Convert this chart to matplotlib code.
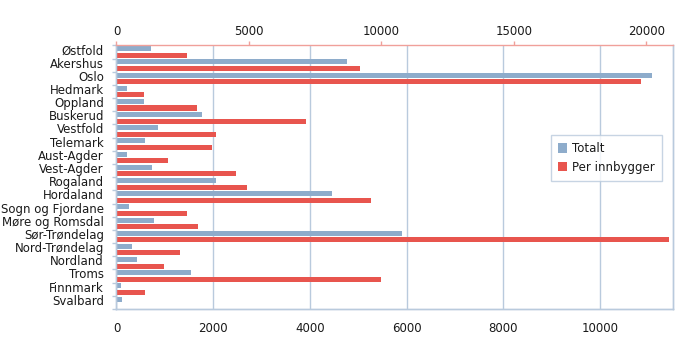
import matplotlib
matplotlib.use("Agg")
import matplotlib.pyplot as plt
import numpy as np
from matplotlib.patches import Patch

fylker = ["Østfold", "Akershus", "Oslo", "Hedmark", "Oppland", "Buskerud", "Vestfold",
          "Telemark", "Aust-Agder", "Vest-Agder", "Rogaland", "Hordaland", "Sogn og Fjordane",
          "Møre og Romsdal", "Sør-Trøndelag", "Nord-Trøndelag", "Nordland", "Troms",
          "Finnmark", "Svalbard"]
totalt = [706, 4756, 11070, 210, 568, 1773, 857, 589, 210, 740, 2050, 4452, 265, 768,
          5905, 327, 417, 1539, 87, 114]
per_innbygger = [2653, 9177, 19811, 1028, 3042, 7162, 3749, 3621, 1946, 4505, 4932, 9607,
                 2653, 3091, 20854, 2388, 1784, 9985, 1077, 0]

bottom_ticks = [0, 2000, 4000, 6000, 8000, 10000]
top_ticks = [0, 5000, 10000, 15000, 20000]

BLUE = "#8eaccb"
RED = "#e8554e"
GRID = "#b9cadd"
REDLINE = "#f0a09a"
TXT = "#1a1a1a"

plt.rcParams["font.family"] = ["DejaVu Sans"]

fig = plt.figure(figsize=(7, 3.56), dpi=100)
ax = fig.add_axes([0.1664, 0.132, 0.7946, 0.7405])
ax2 = ax.twiny()

y = np.arange(len(fylker))
h = 0.38
ax.barh(y - 0.25, totalt, height=h, color=BLUE, zorder=2)
ax2.barh(y + 0.25, per_innbygger, height=h, color=RED, zorder=2)

ax.set_xlim(0, 11500)
ax2.set_xlim(0, 21000)
ax.set_ylim(len(fylker) - 0.5, -0.5)
ax2.set_ylim(len(fylker) - 0.5, -0.5)

ax.set_xticks(bottom_ticks)
ax.set_xticklabels([str(t) for t in bottom_ticks])
ax2.set_xticks(top_ticks)
ax2.set_xticklabels([str(t) for t in top_ticks])

ax.grid(axis="x", color=GRID, linewidth=1.0, zorder=0)
ax.set_axisbelow(True)

# y ticks: boundaries as small marks, labels as minor ticks
ax.set_yticks(np.arange(len(fylker) + 1) - 0.5)
ax.set_yticklabels([])
ax.tick_params(axis="y", which="major", length=3, color=GRID, width=1)
ax.set_yticks(y - 0.2, minor=True)
ax.set_yticklabels(fylker, minor=True)
ax.tick_params(axis="y", which="minor", length=0, pad=9, labelsize=8.5, labelcolor=TXT)

ax.tick_params(axis="x", which="both", length=0, pad=9.5, labelsize=8.5, labelcolor=TXT)
ax2.tick_params(axis="x", length=3, color=REDLINE, width=1, pad=2, labelsize=8.5, labelcolor=TXT)
ax2.tick_params(axis="y", length=0)

for s in ["left", "right", "bottom"]:
    ax.spines[s].set_color(GRID)
    ax2.spines[s].set_color(GRID)
    ax.spines[s].set_linewidth(1.0)
    ax2.spines[s].set_linewidth(1.0)
ax.spines["top"].set_visible(False)
ax2.spines["top"].set_color(REDLINE)
ax2.spines["top"].set_linewidth(1.0)

handles = [Patch(facecolor=BLUE, label="Totalt"), Patch(facecolor=RED, label="Per innbygger")]
leg = ax2.legend(handles=handles, loc="upper left", bbox_to_anchor=(0.781, 0.66),
                 frameon=True, fancybox=False, edgecolor=GRID, fontsize=8.5,
                 handlelength=0.8, handleheight=0.8, handletextpad=0.4,
                 borderpad=0.6, labelspacing=0.5, borderaxespad=0)
leg.get_frame().set_linewidth(1.0)
for t in leg.get_texts():
    t.set_color(TXT)

fig.savefig("out.png", dpi=100)
